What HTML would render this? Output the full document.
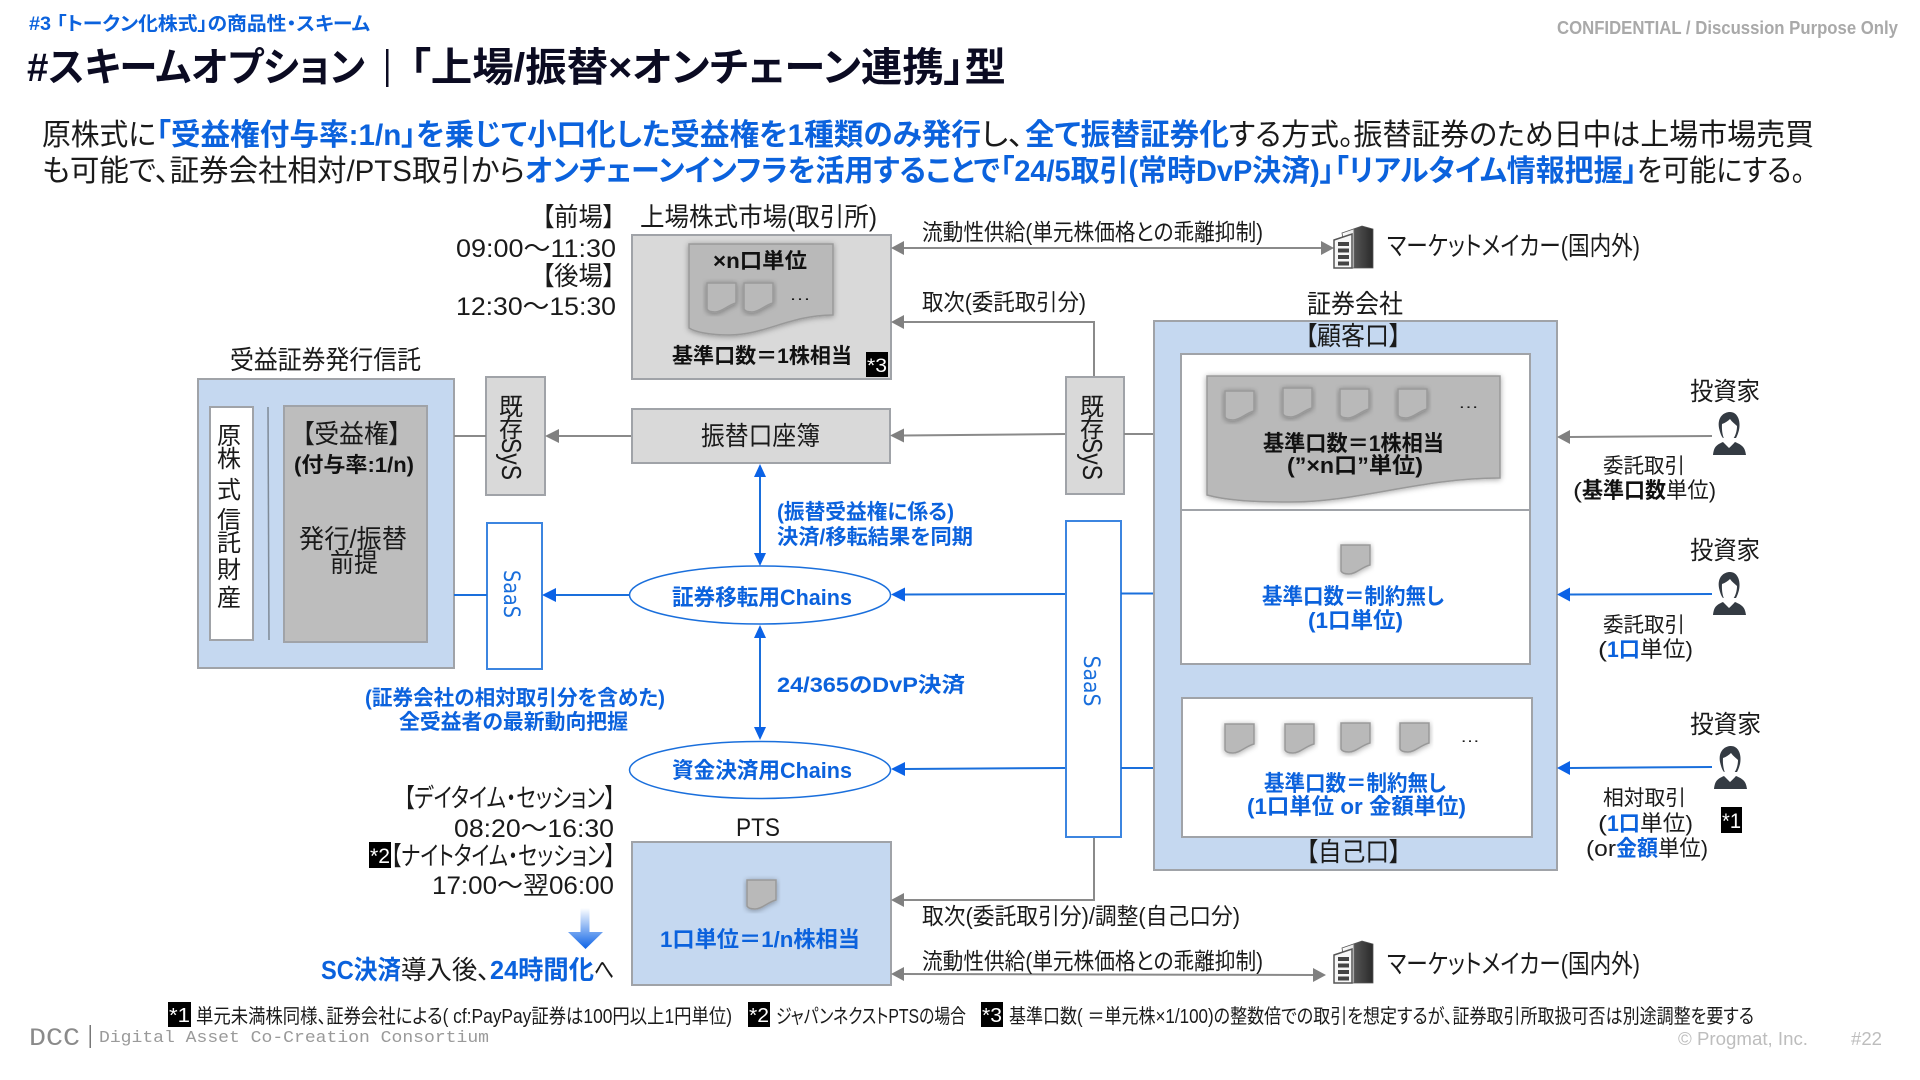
<!DOCTYPE html>
<html lang="ja"><head><meta charset="utf-8"><title>スキームオプション</title>
<style>
html,body{margin:0;padding:0;background:#fff;width:1920px;height:1080px;overflow:hidden}
svg{display:block}
text{font-family:"Liberation Sans","Noto Sans CJK JP",sans-serif;fill:#1a1a1a;font-feature-settings:"palt"}
.b{font-weight:700;fill:#111}
.bl{font-weight:700;fill:#0b62dd}
.g{fill:#a9a9a9}
.w{fill:#fff}
.s{font-family:"DejaVu Sans",sans-serif;fill:#1a6fdc}
.m{font-family:"Liberation Mono",monospace;fill:#9a9a9a}
.box{stroke:#a0a3a8;stroke-width:2}
.ln{stroke:#8a8a8a;stroke-width:2;fill:none}
.lb{stroke:#1a6fdc;stroke-width:2;fill:none}
.ag{fill:#808080}.ab{fill:#0b62e6}
.doc{fill:#b9b9b9;stroke:#999;stroke-width:1.5;filter:url(#sh)}
</style></head><body>
<svg xmlns="http://www.w3.org/2000/svg" width="1920" height="1080" viewBox="0 0 1920 1080">
<defs>
<filter id="sh" x="-15%" y="-15%" width="130%" height="130%"><feDropShadow dx="0" dy="1" stdDeviation="3" flood-color="#000" flood-opacity=".35"/></filter>
<linearGradient id="dn" x1="0" y1="0" x2="0" y2="1"><stop offset="0" stop-color="#fff"/><stop offset="1" stop-color="#0b62e6"/></linearGradient>
<linearGradient id="bd" x1="0" y1="0" x2="1" y2="0"><stop offset="0" stop-color="#fff"/><stop offset=".35" stop-color="#e8e8e8"/><stop offset=".4" stop-color="#555"/><stop offset="1" stop-color="#2a2a2a"/></linearGradient>
<path id="d" d="M0 0H29V20C21 22 15 29 8 29C4 29 1 28 0 26Z"/>
<g id="bld">
<polygon points="8,8 28,1 39,4 39,43 14,43" fill="url(#bd)" stroke="#555" stroke-width=".8"/>
<polygon points="0,15 18,9 18,43 0,43" fill="#f6f6f6" stroke="#555" stroke-width="1.5"/>
<rect x="4" y="17" width="11" height="4" fill="#444"/><rect x="4" y="23.500" width="11" height="4" fill="#444"/><rect x="4" y="30" width="11" height="4" fill="#444"/><rect x="4" y="36.500" width="11" height="4" fill="#444"/>
</g>
<g id="p">
<path d="M0 43C1 35 3 33 10 30L16 36L22 30C29 33 32 35 33 43Z" fill="#343b43"/>
<path d="M6 16C4 5 11 0 17 0C24 0 28 8 26 18C25 22 24 24 23 26H10C8 24 7 20 6 16Z" fill="#343b43"/>
<path d="M9 12C12 11 15 9 17 7C19 10 22 12 24 14C24 21 21 28 17 29L16.500 34L12.500 29.500C10 26 8.500 19 9 12Z" fill="#fff"/>
<path d="M13 27H20L21 31L16.500 35.500L12 31Z" fill="#fff"/>
</g>
</defs>

<!-- Header -->
<text class="bl" x="29" y="30" font-size="19" textLength="341" lengthAdjust="spacingAndGlyphs">#3 「トークン化株式」の商品性・スキーム</text>
<text class="g" x="1557" y="34" font-size="18" font-weight="700" textLength="341" lengthAdjust="spacingAndGlyphs">CONFIDENTIAL / Discussion Purpose Only</text>
<text class="b" x="27" y="81" font-size="40" textLength="338" lengthAdjust="spacingAndGlyphs" style="fill:#0b0b22">#スキームオプション</text>
<rect x="386" y="49" width="2.500" height="38" fill="#0b0b22"/>
<text class="b" x="410" y="81" font-size="40" textLength="596" lengthAdjust="spacingAndGlyphs" style="fill:#0b0b22">「上場/振替×オンチェーン連携」型</text>

<!-- Intro paragraph -->
<text x="42" y="145" font-size="30" textLength="114" lengthAdjust="spacingAndGlyphs">原株式に</text>
<text class="bl" x="156" y="145" font-size="30" textLength="825" lengthAdjust="spacingAndGlyphs">「受益権付与率:1/n」を乗じて小口化した受益権を1種類のみ発行</text>
<text x="981" y="145" font-size="30" textLength="43" lengthAdjust="spacingAndGlyphs">し、</text>
<text class="bl" x="1025" y="145" font-size="30" textLength="204" lengthAdjust="spacingAndGlyphs">全て振替証券化</text>
<text x="1229" y="145" font-size="30" textLength="585" lengthAdjust="spacingAndGlyphs">する方式。振替証券のため日中は上場市場売買</text>
<text x="42" y="181" font-size="30" textLength="483" lengthAdjust="spacingAndGlyphs">も可能で、証券会社相対/PTS取引から</text>
<text class="bl" x="525" y="181" font-size="30" textLength="1112" lengthAdjust="spacingAndGlyphs">オンチェーンインフラを活用することで「24/5取引(常時DvP決済)」「リアルタイム情報把握」</text>
<text x="1637" y="181" font-size="30" textLength="168" lengthAdjust="spacingAndGlyphs">を可能にする。</text>

<!-- Session labels -->
<text x="542" y="226" font-size="26" textLength="73" lengthAdjust="spacingAndGlyphs">【前場】</text>
<text x="456" y="257" font-size="25" textLength="160" lengthAdjust="spacingAndGlyphs">09:00～11:30</text>
<text x="542" y="285" font-size="26" textLength="73" lengthAdjust="spacingAndGlyphs">【後場】</text>
<text x="456" y="315" font-size="25" textLength="160" lengthAdjust="spacingAndGlyphs">12:30～15:30</text>

<!-- Market box -->
<text x="640" y="226" font-size="26" textLength="237" lengthAdjust="spacingAndGlyphs">上場株式市場(取引所)</text>
<rect class="box" x="632" y="235" width="259" height="144" fill="#d9d9d9"/>
<path class="doc" d="M689 244H833V315C790 315 765 335 729 335C710 335 695 332 689 328Z"/>
<text class="b" x="713" y="268" font-size="21" textLength="94" lengthAdjust="spacingAndGlyphs">×n口単位</text>
<use href="#d" x="707" y="283" class="doc"/>
<use href="#d" x="744" y="283" class="doc"/>
<text x="789" y="300" font-size="16" textLength="22" lengthAdjust="spacingAndGlyphs">…</text>
<text class="b" x="672" y="363" font-size="21" textLength="180" lengthAdjust="spacingAndGlyphs">基準口数＝1株相当</text>
<rect x="866" y="352" width="22" height="25" fill="#000"/>
<text class="w" x="867" y="372" font-size="19" textLength="20" lengthAdjust="spacingAndGlyphs">*3</text>

<!-- Market arrows -->
<line class="ln" x1="903" y1="248" x2="1322" y2="248"/>
<polygon class="ag" points="891,248 904,241 904,255"/>
<polygon class="ag" points="1334,248 1321,241 1321,255"/>
<text x="922" y="240" font-size="23" textLength="341" lengthAdjust="spacingAndGlyphs">流動性供給(単元株価格との乖離抑制)</text>
<use href="#bld" x="1334" y="225"/>
<text x="1387" y="255" font-size="26" textLength="253" lengthAdjust="spacingAndGlyphs">マーケットメイカー(国内外)</text>
<path class="ln" d="M903 322H1094V376"/>
<polygon class="ag" points="891,322 904,315 904,329"/>
<text x="922" y="310" font-size="23" textLength="164" lengthAdjust="spacingAndGlyphs">取次(委託取引分)</text>

<!-- Trust -->
<text x="230" y="369" font-size="26" textLength="191" lengthAdjust="spacingAndGlyphs">受益証券発行信託</text>
<rect class="box" x="198" y="379" width="256" height="289" fill="#c5d8f0"/>
<rect class="box" x="210" y="407" width="43" height="233" fill="#fff"/>
<line x1="268" y1="407" x2="269" y2="640" stroke="#7f8a96" stroke-width="1.500"/>
<rect class="box" x="284" y="406" width="143" height="236" fill="#bdbdbd"/>
<text x="229" y="444" font-size="24" text-anchor="middle">原</text>
<text x="229" y="467" font-size="24" text-anchor="middle">株</text>
<text x="229" y="498" font-size="24" text-anchor="middle">式</text>
<text x="229" y="528" font-size="24" text-anchor="middle">信</text>
<text x="229" y="551" font-size="24" text-anchor="middle">託</text>
<text x="229" y="578" font-size="24" text-anchor="middle">財</text>
<text x="229" y="606" font-size="24" text-anchor="middle">産</text>
<text x="302" y="443" font-size="26" textLength="99" lengthAdjust="spacingAndGlyphs">【受益権】</text>
<text class="b" x="294" y="472" font-size="21" textLength="120" lengthAdjust="spacingAndGlyphs">(付与率:1/n)</text>
<text x="299" y="548" font-size="26" textLength="108" lengthAdjust="spacingAndGlyphs">発行/振替</text>
<text x="330" y="572" font-size="26" textLength="48" lengthAdjust="spacingAndGlyphs">前提</text>

<!-- Left SYS / SaaS -->
<rect class="box" x="486" y="377" width="59" height="118" fill="#d9d9d9"/>
<text x="511" y="415" font-size="24" text-anchor="middle">既</text>
<text x="511" y="437" font-size="24" text-anchor="middle">存</text>
<text x="511" y="468" font-size="28" text-anchor="middle" textLength="42" lengthAdjust="spacingAndGlyphs" transform="rotate(90 511 459)">SyS</text>
<line class="ln" x1="454" y1="436" x2="486" y2="436"/>
<rect x="487" y="523" width="55" height="146" fill="#fff" stroke="#3c85e0" stroke-width="2"/>
<text class="s" x="512" y="602" font-size="22" text-anchor="middle" textLength="48" lengthAdjust="spacingAndGlyphs" transform="rotate(90 512 594)">SaaS</text>
<line class="lb" x1="454" y1="595" x2="487" y2="595"/>

<!-- Furikae -->
<rect class="box" x="632" y="409" width="258" height="54" fill="#d9d9d9"/>
<text x="701" y="445" font-size="26" textLength="119" lengthAdjust="spacingAndGlyphs">振替口座簿</text>
<line class="ln" x1="558" y1="436" x2="631" y2="436"/>
<polygon class="ag" points="545,436 559,429 559,443"/>
<line class="ln" x1="903" y1="435.500" x2="1065" y2="434"/>
<polygon class="ag" points="890,435.500 904,428.500 904,442.500"/>

<!-- Right SYS -->
<rect class="box" x="1066" y="377" width="58" height="117" fill="#d9d9d9"/>
<text x="1092" y="415" font-size="24" text-anchor="middle">既</text>
<text x="1092" y="437" font-size="24" text-anchor="middle">存</text>
<text x="1092" y="468" font-size="28" text-anchor="middle" textLength="42" lengthAdjust="spacingAndGlyphs" transform="rotate(90 1092 459)">SyS</text>
<line class="ln" x1="1124" y1="434" x2="1153" y2="434"/>

<!-- Chains -->
<line class="lb" x1="760" y1="475" x2="760" y2="556"/>
<polygon class="ab" points="760,464 754,477 766,477"/>
<polygon class="ab" points="760,566 754,553 766,553"/>
<ellipse cx="760" cy="595" rx="130.500" ry="29" fill="#fff" stroke="#1a6fdc" stroke-width="1.500"/>
<text class="bl" x="672" y="605" font-size="22" textLength="180" lengthAdjust="spacingAndGlyphs">証券移転用Chains</text>
<text class="bl" x="777" y="519" font-size="21" textLength="177" lengthAdjust="spacingAndGlyphs">(振替受益権に係る)</text>
<text class="bl" x="777" y="544" font-size="21" textLength="196" lengthAdjust="spacingAndGlyphs">決済/移転結果を同期</text>
<line class="lb" x1="555" y1="595" x2="630" y2="595"/>
<polygon class="ab" points="542,595 556,588 556,602"/>
<line class="lb" x1="904" y1="594.500" x2="1066" y2="594"/>
<polygon class="ab" points="891,594.500 905,587.500 905,601.500"/>
<line class="lb" x1="760" y1="636" x2="760" y2="729"/>
<polygon class="ab" points="760,625 754,638 766,638"/>
<polygon class="ab" points="760,740 754,727 766,727"/>
<text class="bl" x="777" y="692" font-size="21" textLength="188" lengthAdjust="spacingAndGlyphs">24/365のDvP決済</text>
<text class="bl" x="365" y="705" font-size="21" textLength="300" lengthAdjust="spacingAndGlyphs">(証券会社の相対取引分を含めた)</text>
<text class="bl" x="399" y="729" font-size="21" textLength="229" lengthAdjust="spacingAndGlyphs">全受益者の最新動向把握</text>
<ellipse cx="760" cy="770" rx="130.500" ry="28.500" fill="#fff" stroke="#1a6fdc" stroke-width="1.500"/>
<text class="bl" x="672" y="778" font-size="22" textLength="180" lengthAdjust="spacingAndGlyphs">資金決済用Chains</text>
<line class="lb" x1="904" y1="769" x2="1066" y2="768"/>
<polygon class="ab" points="891,769 905,762 905,776"/>

<!-- PTS sessions -->
<text x="404" y="807" font-size="26" textLength="211" lengthAdjust="spacingAndGlyphs">【デイタイム・セッション】</text>
<text x="454" y="837" font-size="25" textLength="160" lengthAdjust="spacingAndGlyphs">08:20～16:30</text>
<rect x="369" y="842" width="22" height="26" fill="#000"/>
<text class="w" x="370" y="863" font-size="21" textLength="20" lengthAdjust="spacingAndGlyphs">*2</text>
<text x="391" y="865" font-size="26" textLength="224" lengthAdjust="spacingAndGlyphs">【ナイトタイム・セッション】</text>
<text x="432" y="894" font-size="25" textLength="182" lengthAdjust="spacingAndGlyphs">17:00～翌06:00</text>
<path d="M580.500 908H589.500V932H603L585.500 949L568 932H580.500Z" fill="url(#dn)"/>
<text class="bl" x="321" y="979" font-size="26" textLength="80" lengthAdjust="spacingAndGlyphs">SC決済</text>
<text x="401" y="979" font-size="26" textLength="89" lengthAdjust="spacingAndGlyphs">導入後、</text>
<text class="bl" x="490" y="979" font-size="26" textLength="104" lengthAdjust="spacingAndGlyphs">24時間化</text>
<text x="594" y="979" font-size="26" textLength="20" lengthAdjust="spacingAndGlyphs">へ</text>

<!-- PTS box -->
<text x="736" y="836" font-size="25" textLength="44" lengthAdjust="spacingAndGlyphs">PTS</text>
<rect class="box" x="632" y="842" width="259" height="143" fill="#c5d8f0"/>
<use href="#d" x="747" y="880" class="doc"/>
<text class="bl" x="660" y="947" font-size="22" textLength="200" lengthAdjust="spacingAndGlyphs">1口単位＝1/n株相当</text>
<path class="ln" d="M1094 837V900H904"/>
<polygon class="ag" points="891,900 904,893 904,907"/>
<text x="922" y="924" font-size="23" textLength="318" lengthAdjust="spacingAndGlyphs">取次(委託取引分)/調整(自己口分)</text>
<line class="ln" x1="903" y1="974" x2="1315" y2="975"/>
<polygon class="ag" points="891,974 904,967 904,981"/>
<polygon class="ag" points="1326,975 1313,968 1313,982"/>
<text x="922" y="969" font-size="23" textLength="341" lengthAdjust="spacingAndGlyphs">流動性供給(単元株価格との乖離抑制)</text>
<use href="#bld" x="1334" y="940"/>
<text x="1387" y="973" font-size="26" textLength="253" lengthAdjust="spacingAndGlyphs">マーケットメイカー(国内外)</text>

<!-- Securities firm -->
<text x="1307" y="313" font-size="26" textLength="96" lengthAdjust="spacingAndGlyphs">証券会社</text>
<rect class="box" x="1154" y="321" width="403" height="549" fill="#c5d8f0"/>
<text x="1305" y="345" font-size="26" textLength="96" lengthAdjust="spacingAndGlyphs">【顧客口】</text>
<rect class="box" x="1181" y="354" width="349" height="310" fill="#fff"/>
<line class="box" x1="1181" y1="510" x2="1530" y2="510"/>
<path class="doc" d="M1207 376H1500V478C1420 478 1360 502 1290 502C1250 502 1225 500 1207 495Z"/>
<use href="#d" x="1225" y="391" class="doc"/>
<use href="#d" x="1283" y="388" class="doc"/>
<use href="#d" x="1340" y="389" class="doc"/>
<use href="#d" x="1398" y="389" class="doc"/>
<text x="1458" y="408" font-size="16" textLength="21" lengthAdjust="spacingAndGlyphs">…</text>
<text class="b" x="1263" y="451" font-size="22" textLength="181" lengthAdjust="spacingAndGlyphs">基準口数＝1株相当</text>
<text class="b" x="1287" y="473" font-size="22" textLength="136" lengthAdjust="spacingAndGlyphs">(”×n口”単位)</text>
<use href="#d" x="1341" y="545" class="doc"/>
<text class="bl" x="1262" y="604" font-size="22" textLength="182" lengthAdjust="spacingAndGlyphs">基準口数＝制約無し</text>
<text class="bl" x="1308" y="628" font-size="22" textLength="95" lengthAdjust="spacingAndGlyphs">(1口単位)</text>
<rect class="box" x="1182" y="698" width="350" height="139" fill="#fff"/>
<use href="#d" x="1225" y="724" class="doc"/>
<use href="#d" x="1285" y="724" class="doc"/>
<use href="#d" x="1341" y="723" class="doc"/>
<use href="#d" x="1400" y="723" class="doc"/>
<text x="1460" y="742" font-size="16" textLength="20" lengthAdjust="spacingAndGlyphs">…</text>
<text class="bl" x="1264" y="791" font-size="22" textLength="182" lengthAdjust="spacingAndGlyphs">基準口数＝制約無し</text>
<text class="bl" x="1247" y="814" font-size="22" textLength="219" lengthAdjust="spacingAndGlyphs">(1口単位 or 金額単位)</text>
<text x="1306" y="861" font-size="26" textLength="95" lengthAdjust="spacingAndGlyphs">【自己口】</text>

<!-- Right SaaS -->
<rect x="1066" y="521" width="55" height="316" fill="#fff" stroke="#3c85e0" stroke-width="2"/>
<text class="s" x="1092" y="689" font-size="22" text-anchor="middle" textLength="51" lengthAdjust="spacingAndGlyphs" transform="rotate(90 1092 681)">SaaS</text>
<line class="lb" x1="1121" y1="593.500" x2="1153" y2="593.500"/>
<line class="lb" x1="1121" y1="768" x2="1153" y2="768"/>

<!-- Investors -->
<text x="1690" y="400" font-size="25" textLength="70" lengthAdjust="spacingAndGlyphs">投資家</text>
<use href="#p" x="1713" y="412"/>
<line class="ln" x1="1570" y1="437" x2="1712" y2="436"/>
<polygon class="ag" points="1557,437 1570,430 1570,444"/>
<text x="1603" y="473" font-size="21" textLength="82" lengthAdjust="spacingAndGlyphs">委託取引</text>
<text x="1573" y="498" font-size="22" textLength="9" lengthAdjust="spacingAndGlyphs">(</text>
<text class="b" x="1582" y="498" font-size="22" textLength="84" lengthAdjust="spacingAndGlyphs">基準口数</text>
<text x="1666" y="498" font-size="22" textLength="50" lengthAdjust="spacingAndGlyphs">単位)</text>

<text x="1690" y="559" font-size="25" textLength="70" lengthAdjust="spacingAndGlyphs">投資家</text>
<use href="#p" x="1713" y="572"/>
<line class="lb" x1="1570" y1="594.500" x2="1712" y2="594"/>
<polygon class="ab" points="1557,594.500 1570,587.500 1570,601.500"/>
<text x="1603" y="632" font-size="21" textLength="82" lengthAdjust="spacingAndGlyphs">委託取引</text>
<text x="1598" y="657" font-size="22" textLength="9" lengthAdjust="spacingAndGlyphs">(</text>
<text class="bl" x="1607" y="657" font-size="22" textLength="33" lengthAdjust="spacingAndGlyphs">1口</text>
<text x="1640" y="657" font-size="22" textLength="53" lengthAdjust="spacingAndGlyphs">単位)</text>

<text x="1690" y="733" font-size="25" textLength="71" lengthAdjust="spacingAndGlyphs">投資家</text>
<use href="#p" x="1714" y="746"/>
<line class="lb" x1="1570" y1="768" x2="1712" y2="767"/>
<polygon class="ab" points="1557,768 1570,761 1570,775"/>
<text x="1603" y="805" font-size="21" textLength="83" lengthAdjust="spacingAndGlyphs">相対取引</text>
<text x="1598" y="831" font-size="22" textLength="9" lengthAdjust="spacingAndGlyphs">(</text>
<text class="bl" x="1607" y="831" font-size="22" textLength="33" lengthAdjust="spacingAndGlyphs">1口</text>
<text x="1640" y="831" font-size="22" textLength="53" lengthAdjust="spacingAndGlyphs">単位)</text>
<rect x="1721" y="807" width="21" height="26" fill="#000"/>
<text class="w" x="1722" y="828" font-size="21" textLength="19" lengthAdjust="spacingAndGlyphs">*1</text>
<text x="1586" y="856" font-size="22" textLength="30" lengthAdjust="spacingAndGlyphs">(or</text>
<text class="bl" x="1616" y="856" font-size="22" textLength="42" lengthAdjust="spacingAndGlyphs">金額</text>
<text x="1658" y="856" font-size="22" textLength="50" lengthAdjust="spacingAndGlyphs">単位)</text>

<!-- Footnotes -->
<rect x="168" y="1002" width="23" height="25" fill="#000"/>
<text class="w" x="169" y="1022" font-size="20" textLength="21" lengthAdjust="spacingAndGlyphs">*1</text>
<text x="196" y="1023" font-size="20" textLength="536" lengthAdjust="spacingAndGlyphs">単元未満株同様、証券会社による( cf:PayPay証券は100円以上1円単位)</text>
<rect x="748" y="1002" width="22" height="25" fill="#000"/>
<text class="w" x="749" y="1022" font-size="20" textLength="20" lengthAdjust="spacingAndGlyphs">*2</text>
<text x="776" y="1023" font-size="20" textLength="190" lengthAdjust="spacingAndGlyphs">ジャパンネクストPTSの場合</text>
<rect x="981" y="1002" width="22" height="25" fill="#000"/>
<text class="w" x="982" y="1022" font-size="20" textLength="20" lengthAdjust="spacingAndGlyphs">*3</text>
<text x="1009" y="1023" font-size="20" textLength="745" lengthAdjust="spacingAndGlyphs">基準口数( ＝単元株×1/100)の整数倍での取引を想定するが、証券取引所取扱可否は別途調整を要する</text>

<!-- Footer -->
<text x="29" y="1045" font-size="25" textLength="51" lengthAdjust="spacingAndGlyphs" style="font-family:'Liberation Mono',monospace;fill:#8a8a8a">DCC</text>
<rect x="89.500" y="1025" width="1.500" height="23" fill="#777"/>
<text class="m" x="99" y="1042" font-size="17" textLength="390" lengthAdjust="spacingAndGlyphs">Digital Asset Co-Creation Consortium</text>
<text class="g" x="1678" y="1045" font-size="18" textLength="130" lengthAdjust="spacingAndGlyphs" style="fill:#bdbdbd">©  Progmat, Inc.</text>
<text class="g" x="1851" y="1045" font-size="18" textLength="31" lengthAdjust="spacingAndGlyphs" style="fill:#bdbdbd">#22</text>
</svg>
</body></html>
